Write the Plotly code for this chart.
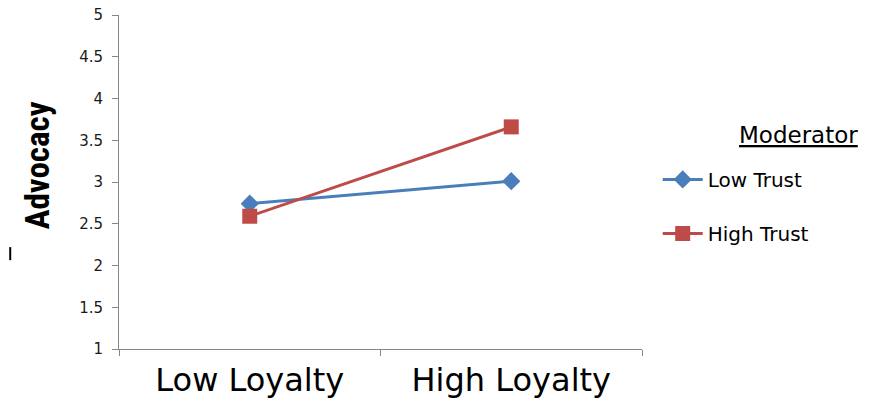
import plotly.graph_objects as go

categories = ["Low Loyalty", "High Loyalty"]
low_trust = [2.74, 3.01]
high_trust = [2.59, 3.66]
series_names = ["Low Trust", "High Trust"]
y_ticks = [1, 1.5, 2, 2.5, 3, 3.5, 4, 4.5, 5]
y_ticktext = ["1", "1.5", "2", "2.5", "3", "3.5", "4", "4.5", "5"]

fig = go.Figure()
fig.add_trace(go.Scatter(
    x=categories, y=low_trust, name=series_names[0], mode="lines+markers",
    legendgroup="a",
    line=dict(color="#4A7EBB", width=3),
    marker=dict(symbol="diamond", size=14, color="#4A7EBB"),
))
fig.add_trace(go.Scatter(
    x=categories, y=high_trust, name=series_names[1], mode="lines+markers",
    legendgroup="b",
    line=dict(color="#BE4B48", width=3),
    marker=dict(symbol="square", size=15, color="#BE4B48"),
))

fig.update_layout(
    width=869, height=401,
    margin=dict(l=119, r=227, t=15, b=52),
    paper_bgcolor="white", plot_bgcolor="white",
    showlegend=True,
    legend=dict(
        x=1.03, y=0.566, xanchor="left", yanchor="top",
        font=dict(family="DejaVu Sans", size=20, color="#000000"),
        tracegroupgap=25, itemwidth=40,
        bgcolor="rgba(0,0,0,0)",
    ),
    xaxis=dict(
        type="category", range=[-0.5, 1.5], automargin=False,
        showline=True, linecolor="#868686", linewidth=1,
        ticks="outside", tickson="boundaries", ticklen=6, tickcolor="#868686",
        ticklabelstandoff=3,
        showgrid=False, zeroline=False,
        tickfont=dict(family="DejaVu Sans", size=32, color="#000000"),
    ),
    yaxis=dict(
        range=[1, 5], tickvals=y_ticks, ticktext=y_ticktext, automargin=False,
        showline=True, linecolor="#868686", linewidth=1,
        ticks="outside", ticklen=6, tickcolor="#868686", ticklabelstandoff=6,
        showgrid=False, zeroline=False,
        tickfont=dict(family="DejaVu Sans", size=15, color="#1a1a1a"),
    ),
    annotations=[
        dict(text="Advocacy", xref="paper", yref="paper", x=-0.157, y=0.55,
             xanchor="center", yanchor="middle",
             textangle=-90, showarrow=False,
             font=dict(family="Liberation Sans Narrow, Arial Narrow, Roboto Condensed, sans-serif",
                       size=33, color="#000000", weight="bold")),
        dict(text="<u>Moderator</u>", xref="paper", yref="paper", x=1.417, y=0.64,
             xanchor="right", yanchor="middle", showarrow=False,
             font=dict(family="DejaVu Sans", size=23, color="#000000")),
    ],
    shapes=[
        dict(type="line", xref="paper", yref="paper", x0=-0.208, x1=-0.208,
             y0=0.266, y1=0.305, line=dict(color="#000000", width=2)),
    ],
)

fig.write_html("out.html")
